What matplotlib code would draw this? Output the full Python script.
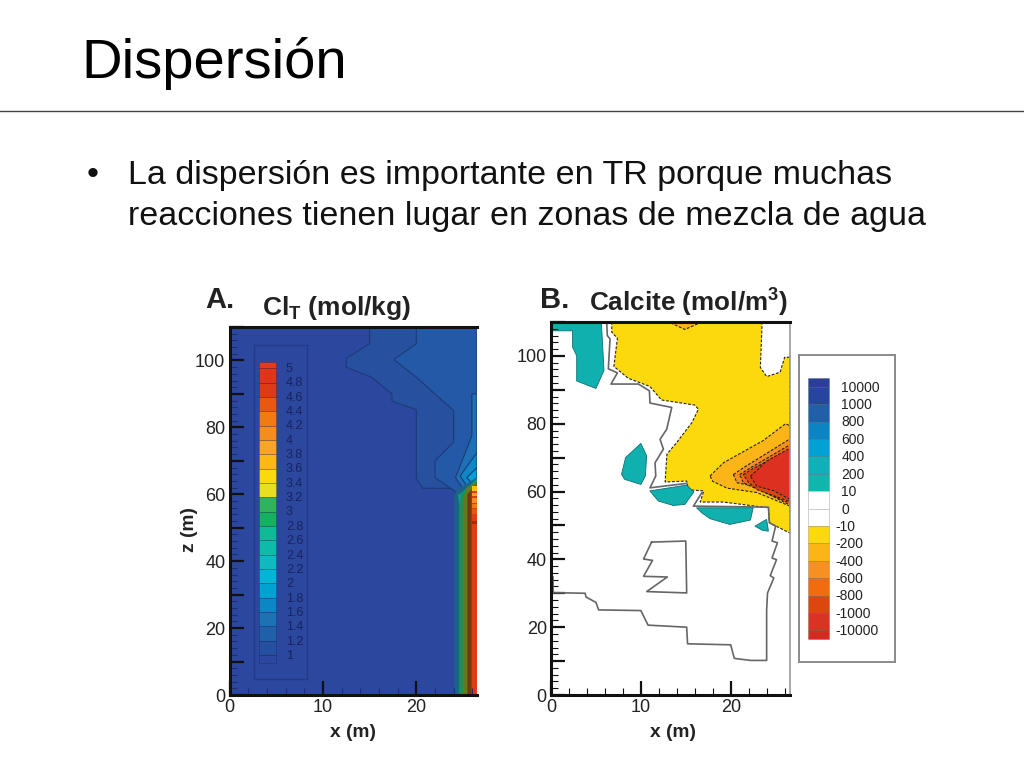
import matplotlib
matplotlib.use("Agg")
import matplotlib.pyplot as plt
from matplotlib.ticker import MultipleLocator, FuncFormatter

plt.rcParams['font.family'] = ['Liberation Sans', 'DejaVu Sans']
plt.rcParams['mathtext.fontset'] = 'custom'
plt.rcParams['mathtext.bf'] = 'Liberation Sans:bold'
plt.rcParams['mathtext.rm'] = 'Liberation Sans'

W, H = 1024, 768

title = "Dispersión"
body_lines = ["La dispersión es importante en TR porque muchas",
              "reacciones tienen lugar en zonas de mezcla de agua"]

# panel A: contour bands, drawn back to front
a_bands = [
    ("#27509f", [(15, 110), (15, 105), (12.5, 100.6), (12.5, 98), (15.2, 95), (17.4, 90), (17.4, 87.8),
                 (20, 85.3), (20, 64.6), (20.7, 61.8), (24.2, 61.8), (26.5, 58), (26.5, 110)]),
    ("#2359a6", [(20, 110), (20, 105), (17.6, 100.3), (20, 95), (24, 85), (24, 75.6), (22, 70), (22, 65),
                 (24.3, 60.6), (26.5, 60), (26.5, 110)]),
    ("#1f6fb5", [(26.5, 90), (25.95, 90), (25.95, 77.5), (24.2, 65), (24.9, 62), (26.5, 60)]),
    ("#0e87c4", [(26.5, 72.5), (24.7, 65.5), (25.4, 62.5), (26.5, 60)]),
    ("#00a2d2", [(26.5, 68), (25.4, 65), (25.9, 63.5), (26.5, 62)]),
]
a_side_bands = [
    ("#1b6488", [(24.06, 0), (24.06, 59), (24.3, 61), (26.5, 65), (26.5, 0)]),
    ("#13a08a", [(24.5, 60), (24.7, 60), (26.5, 64.5), (26.5, 62), (24.9, 52)]),
    ("#1c8f5a", [(24.6, 0), (24.6, 55), (24.8, 60), (26.5, 64), (26.5, 0)]),
    ("#5f7d1e", [(25, 0), (25, 58), (25.4, 62), (26.5, 63.5), (26.5, 0)]),
    ("#74380f", [(25.5, 0), (25.5, 60), (26.5, 63), (26.5, 0)]),
    ("#e03a18", [(25.95, 0), (25.95, 62), (26.5, 62.5), (26.5, 0)]),
]
a_stripes = [(61, 62.5, "#fbc016"), (59.5, 60.5, "#f8a020"), (57.5, 59, "#f68c1e"),
             (56, 57, "#f27a12"), (54, 55.5, "#ea5710"), (51, 52, "#a02a10")]

a_levels = ["5", "4.8", "4.6", "4.4", "4.2", "4", "3.8", "3.6", "3.4", "3.2", "3",
            "2.8", "2.6", "2.4", "2.2", "2", "1.8", "1.6", "1.4", "1.2", "1"]
a_colors = ["#e63a1c", "#e0351a", "#dd3a16", "#ea5710", "#f27a12", "#f68c1e", "#faa528", "#fdb814",
            "#fbd90c", "#e8df20", "#2fb45a", "#17b060", "#0fbb97", "#0ebaa8", "#0fb9c0", "#00b5d5",
            "#00a2d2", "#0a87c4", "#1d72b5", "#1f60a9", "#24509f", "#2b479e"]

# panel B: filled regions
b_yellow = [(6.76, 110), (6.76, 107), (7.39, 105.2), (7.0, 96.9), (8.6, 93.4), (11, 91), (12.3, 87), (16, 85.5),
            (16.4, 84.3), (15.7, 80.4), (14, 74.5), (12.9, 71), (12.7, 62.8), (15.1, 63.1), (15.3, 60.5),
            (17, 60.2), (16.6, 56.9), (19.2, 56.9), (24.2, 55.2), (24.3, 50.8), (26.4, 48), (26.6, 47.8),
            (26.6, 99.6), (26, 99.6), (25.5, 95.2), (24, 93.9), (23.3, 96.6), (23.5, 110)]
b_orange_top = [(13.5, 110), (13.5, 109.5), (14.9, 107.8), (16.8, 110)]
b_neg = [
    ("#fbb516", [(17.7, 64.6), (19.2, 68.5), (23.6, 75), (26.1, 80), (26.6, 79.4), (26.6, 55.7), (22.9, 59.7),
                 (19.6, 61), (18, 63)]),
    ("#f79020", [(20.3, 65), (21.4, 67), (26.4, 75.2), (26.6, 75), (26.6, 56), (22.5, 61.6), (20.7, 62.6)]),
    ("#f26c0f", [(21, 65), (22.2, 67), (26.6, 73.8), (26.6, 56.5), (22.7, 61), (21.4, 62.6)]),
    ("#dc4710", [(21.4, 65), (22.5, 66.8), (26.6, 72.4), (26.6, 57), (23, 60.5), (22, 62.6)]),
    ("#dd3020", [(22.2, 64.5), (24, 69), (26.4, 72.5), (26.6, 72), (26.6, 57.7), (24.8, 60.2), (22.9, 61.6)]),
]
b_teal = [
    [(0, 110), (5.6, 110), (5.75, 103), (5.9, 95.7), (5, 90.4), (2.86, 92.6), (2.86, 100), (2.4, 102.6),
     (2.4, 107.4), (0, 107.4)],
    [(10, 74.2), (10.65, 70.5), (10.5, 64.6), (10, 62.1), (8.2, 63.6), (7.85, 65.1), (8.3, 70)],
    [(11, 60.2), (15.1, 61.9), (15.9, 59.9), (14.9, 56.2), (13.6, 55.9), (11.95, 57.2)],
    [(16.2, 55.2), (22.5, 55.2), (22.2, 51.6), (19.9, 50.3), (17.7, 52), (16.8, 53.7)],
    [(24, 51.8), (24.2, 48.3), (23.5, 48.6), (22.7, 49.8)],
]
# panel B: zero contours
b_line_main = [(6.2, 110), (6.27, 106), (6.57, 105), (6.38, 96.2), (7.39, 95), (6.68, 91.7), (9.73, 91.7),
               (10.95, 89.7), (11.02, 86.1), (13.44, 84.8), (12.88, 78.4), (12.14, 75.4), (12.51, 72.5),
               (11.58, 68.5), (11.66, 64.6), (11.02, 61.1), (15.1, 62.4)]
b_line_mid = [(16.8, 59.7), (15.85, 55.7), (24.2, 55.4), (24.3, 50.8), (25, 49.8), (24.6, 45.4), (25.2, 44.9),
              (24.6, 40.4), (25.1, 39.9), (24.4, 35.2), (24.8, 34.5), (24.1, 30.1), (24, 25.1), (24, 10.2),
              (22.2, 10.2), (20.4, 10.8), (20, 14.8), (15.2, 15.1), (15.1, 20), (10.8, 20.6), (10, 24.9),
              (5.3, 25.1), (5, 27.3), (3.9, 28.9), (3.8, 30), (0, 30.2)]
b_line_stub = [(0.26, 30.2), (0.26, 34.8)]
b_line_box = [(11.2, 45.1), (15, 45.4), (15.1, 30.1), (10.65, 30.5), (12.95, 34.8), (10.3, 35), (11.3, 39.7),
              (10.3, 40.1), (11.2, 45.1)]

b_levels = ["10000", "1000", "800", "600", "400", "200", "10", "0", "-10", "-200", "-400", "-600", "-800",
            "-1000", "-10000"]
b_colors = ["#2b3f98", "#26469e", "#1f60a9", "#0b84c2", "#00a2d3", "#0fb0b9", "#10b6ab", "#ffffff", "#ffffff",
            "#fcd90c", "#fbb516", "#f79020", "#f26c0f", "#dc4710", "#d93322", "#d62a20"]


def px_axes(fig, left, top, right, bottom, **kw):
    return fig.add_axes([left / W, 1 - bottom / H, (right - left) / W, (bottom - top) / H], **kw)


def px_text(fig, x, y, s, **kw):
    fig.text(x / W, 1 - y / H, s, **kw)


def fill(ax, pts, color, **kw):
    ax.fill([p[0] for p in pts], [p[1] for p in pts], color=color, **kw)


def line(ax, pts, **kw):
    ax.plot([p[0] for p in pts], [p[1] for p in pts], **kw)


def style_axes(ax, xmax, tick_color):
    ax.set_xlim(0, xmax)
    ax.set_ylim(0, 110)
    ax.xaxis.set_major_locator(MultipleLocator(10))
    ax.xaxis.set_minor_locator(MultipleLocator(2))
    ax.yaxis.set_major_locator(MultipleLocator(10))
    ax.yaxis.set_minor_locator(MultipleLocator(2))
    ax.yaxis.set_major_formatter(FuncFormatter(lambda v, p: "%d" % v if int(v) % 20 == 0 else ""))
    ax.tick_params(which='major', direction='in', length=10, width=1.6, color=tick_color, labelsize=13,
                   labelcolor="#222222", pad=3)
    ax.tick_params(which='minor', direction='in', length=5, width=0.8, color=tick_color)
    for s in ['left', 'bottom', 'top']:
        ax.spines[s].set_linewidth(2.2)
        ax.spines[s].set_color("#111111")


fig = plt.figure(figsize=(W / 100, H / 100), dpi=100)

px_text(fig, 81, 78, title, fontsize=40.5, color="black")
fig.add_artist(plt.Line2D([0, 1], [1 - 111 / H, 1 - 111 / H], color="#444444", lw=1.0))
px_text(fig, 87, 184, "•", fontsize=24.5, color="#111111")
px_text(fig, 128, 184, body_lines[0], fontsize=24.5, color="#111111")
px_text(fig, 128, 225, body_lines[1], fontsize=24.5, color="#111111")

# panel A
ax = px_axes(fig, 229.5, 327, 477, 695)
ax.set_facecolor("#2b479e")
for color, pts in a_bands:
    fill(ax, pts, color, ec="#1d3a78", lw=0.8)
for color, pts in a_side_bands:
    fill(ax, pts, color, ec=color, lw=0.3)
for y0, y1, color in a_stripes:
    ax.fill_between([25.95, 26.5], y0, y1, color=color, lw=0)
style_axes(ax, 26.5, "#111111")
ax.spines['right'].set_visible(False)
ax.tick_params(which='minor', color="#1d2f70")

# legend box of panel A
lg = px_axes(fig, 254, 345, 307, 679)
lg.patch.set_alpha(0)
lg.set_xlim(254, 307)
lg.set_ylim(679, 345)
lg.set_xticks([])
lg.set_yticks([])
for s in lg.spines.values():
    s.set_color("#243a86")
    s.set_linewidth(1)
step = (663 - 361.7) / 21
for i, color in enumerate(a_colors):
    y0 = 361.7 + i * step - (step * 0.55 if i else 0)
    y1 = 361.7 + (i + 1) * step - step * 0.55
    if i == len(a_colors) - 1:
        y1 = 663
    lg.fill_between([259, 276], y0, y1, color=color, ec="#00000030", lw=0.6)
for i, lab in enumerate(a_levels):
    lg.text(286, 369 + i * step, lab, fontsize=9, color="#18245f", va='center', ha='left')

# panel B
bx = px_axes(fig, 551, 322, 790, 695)
fill(bx, b_yellow, "#fcd90c", ec="#222222", lw=0.8, ls=(0, (2.5, 1.5)))
fill(bx, b_orange_top, "#fbb516", ec="#222222", lw=0.8, ls=(0, (2.5, 1.5)))
for color, pts in b_neg:
    fill(bx, pts, color, ec="#222222", lw=0.8, ls=(0, (2.5, 1.5)))
for pts in b_teal:
    fill(bx, pts, "#10b0ae", ec="#0d6f70", lw=0.6)
for pts in [b_line_main, b_line_mid, b_line_stub, b_line_box]:
    line(bx, pts, color="#666666", lw=1.2)
style_axes(bx, 26.6, "#111111")
bx.spines['right'].set_color("#999999")
bx.spines['right'].set_linewidth(1.2)

# legend box of panel B
lb = px_axes(fig, 799, 355, 895, 662)
lb.set_xlim(799, 895)
lb.set_ylim(662, 355)
lb.set_xticks([])
lb.set_yticks([])
for s in lb.spines.values():
    s.set_color("#8a8a8a")
    s.set_linewidth(1.4)
bstep = 17.4
for i, color in enumerate(b_colors):
    y0 = 377.7 if i == 0 else 386.7 + (i - 1) * bstep
    y1 = 639.3 if i == len(b_colors) - 1 else 386.7 + i * bstep
    lb.fill_between([807.7, 829.3], y0, y1, color=color, ec="#c8c8c8" if color == "#ffffff" else "#00000030", lw=0.6)
for i, lab in enumerate(b_levels):
    lb.text(841.5 if not lab.startswith("-") else 835, 387.7 + i * bstep, lab, fontsize=10, color="#222222",
            va='center', ha='left')

# panel headings
px_text(fig, 205, 308, "A.", fontsize=21, fontweight='bold', color="#222222")
px_text(fig, 262, 315, r"Cl$_{\mathbf{T}}$ (mol/kg)", fontsize=19, fontweight='bold', color="#222222")
px_text(fig, 540, 308, "B.", fontsize=21, fontweight='bold', color="#222222")
px_text(fig, 589, 311, r"Calcite (mol/m$^{\mathbf{3}}$)", fontsize=18.8, fontweight='bold', color="#222222")
px_text(fig, 353, 737, "x (m)", fontsize=13.8, fontweight='bold', color="#222222", ha='center')
px_text(fig, 673, 737, "x (m)", fontsize=13.8, fontweight='bold', color="#222222", ha='center')
px_text(fig, 190, 530, "z (m)", fontsize=13.8, fontweight='bold', color="#222222", ha='center', va='center',
        rotation=90)

fig.savefig("out.png", dpi=100)
